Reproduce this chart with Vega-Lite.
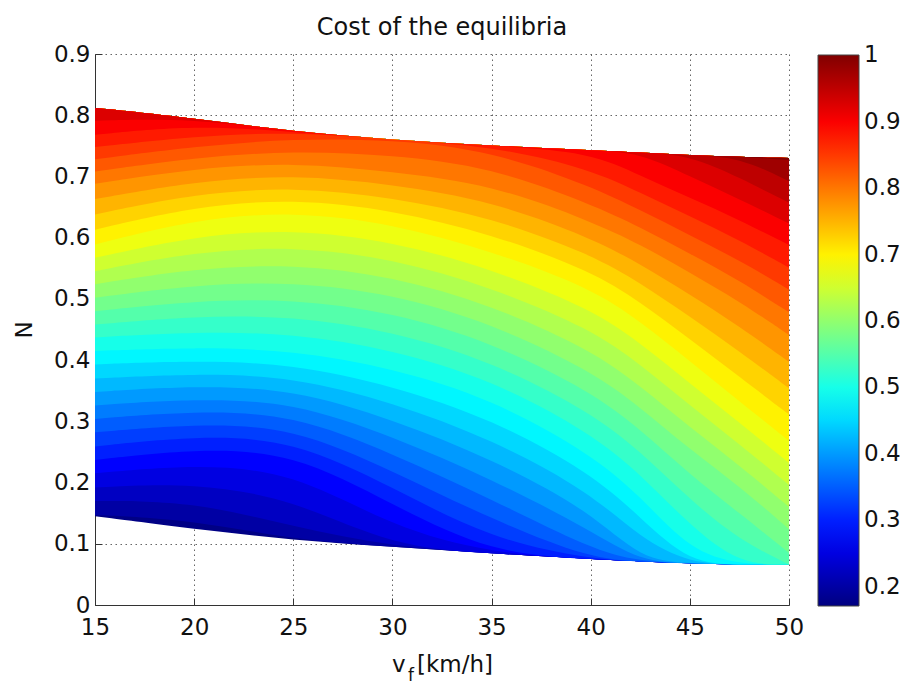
{
  "$schema": "https://vega.github.io/schema/vega-lite/v6.json",
  "width": 694,
  "height": 551,
  "autosize": {"type": "none"},
  "padding": {"left": 95, "top": 54, "right": 118, "bottom": 79},
  "title": {"text": "Cost of the equilibria", "anchor": "middle", "baseline": "alphabetic", "offset": 15, "dy": 31},
  "config": {
    "font": "DejaVu Sans",
    "view": {"stroke": null},
    "title": {"font": "DejaVu Sans", "fontSize": 24, "fontWeight": "normal", "color": "#111"},
    "axis": {
      "labelFont": "DejaVu Sans", "labelFontSize": 23, "labelColor": "#111", "labelFlush": false,
      "titleFont": "DejaVu Sans", "titleFontSize": 23, "titleFontWeight": "normal", "titleColor": "#111",
      "domainColor": "#333", "domainWidth": 1,
      "tickColor": "#333", "tickSize": -7,
      "gridColor": "#555", "gridDash": [1.5, 3.5], "gridWidth": 1, "gridOpacity": 0.9
    },
    "legend": {"labelFont": "DejaVu Sans", "labelFontSize": 23, "labelColor": "#111", "padding": 0}
  },
  "layer": [
    {
      "data": {"values": [
        {"v":15,"c":0.175,"n":0.145},{"v":15,"c":0.2,"n":0.147},{"v":15,"c":0.225,"n":0.170},{"v":15,"c":0.25,"n":0.192},{"v":15,"c":0.275,"n":0.215},{"v":15,"c":0.3,"n":0.237},{"v":15,"c":0.325,"n":0.259},{"v":15,"c":0.35,"n":0.282},{"v":15,"c":0.375,"n":0.304},{"v":15,"c":0.4,"n":0.326},{"v":15,"c":0.425,"n":0.348},{"v":15,"c":0.45,"n":0.370},{"v":15,"c":0.475,"n":0.393},{"v":15,"c":0.5,"n":0.415},{"v":15,"c":0.525,"n":0.437},{"v":15,"c":0.55,"n":0.458},{"v":15,"c":0.575,"n":0.480},{"v":15,"c":0.6,"n":0.502},{"v":15,"c":0.625,"n":0.524},{"v":15,"c":0.65,"n":0.545},{"v":15,"c":0.675,"n":0.567},{"v":15,"c":0.7,"n":0.589},{"v":15,"c":0.725,"n":0.613},{"v":15,"c":0.75,"n":0.638},{"v":15,"c":0.775,"n":0.663},{"v":15,"c":0.8,"n":0.688},{"v":15,"c":0.825,"n":0.708},{"v":15,"c":0.85,"n":0.728},{"v":15,"c":0.875,"n":0.748},{"v":15,"c":0.9,"n":0.768},{"v":15,"c":0.925,"n":0.791},{"v":15,"c":0.95,"n":0.812},{"v":15,"c":0.975,"n":0.812},{"v":15,"c":1.0,"n":0.812},{"v":15,"c":1.025,"n":0.812},
        {"v":20,"c":0.175,"n":0.124},{"v":20,"c":0.2,"n":0.139},{"v":20,"c":0.225,"n":0.169},{"v":20,"c":0.25,"n":0.200},{"v":20,"c":0.275,"n":0.230},{"v":20,"c":0.3,"n":0.255},{"v":20,"c":0.325,"n":0.276},{"v":20,"c":0.35,"n":0.296},{"v":20,"c":0.375,"n":0.317},{"v":20,"c":0.4,"n":0.337},{"v":20,"c":0.425,"n":0.358},{"v":20,"c":0.45,"n":0.378},{"v":20,"c":0.475,"n":0.399},{"v":20,"c":0.5,"n":0.421},{"v":20,"c":0.525,"n":0.446},{"v":20,"c":0.55,"n":0.472},{"v":20,"c":0.575,"n":0.497},{"v":20,"c":0.6,"n":0.523},{"v":20,"c":0.625,"n":0.550},{"v":20,"c":0.65,"n":0.577},{"v":20,"c":0.675,"n":0.603},{"v":20,"c":0.7,"n":0.630},{"v":20,"c":0.725,"n":0.651},{"v":20,"c":0.75,"n":0.672},{"v":20,"c":0.775,"n":0.692},{"v":20,"c":0.8,"n":0.713},{"v":20,"c":0.825,"n":0.731},{"v":20,"c":0.85,"n":0.749},{"v":20,"c":0.875,"n":0.766},{"v":20,"c":0.9,"n":0.784},{"v":20,"c":0.925,"n":0.795},{"v":20,"c":0.95,"n":0.795},{"v":20,"c":0.975,"n":0.795},{"v":20,"c":1.0,"n":0.795},{"v":20,"c":1.025,"n":0.795},
        {"v":25,"c":0.175,"n":0.106},{"v":25,"c":0.2,"n":0.106},{"v":25,"c":0.225,"n":0.128},{"v":25,"c":0.25,"n":0.173},{"v":25,"c":0.275,"n":0.218},{"v":25,"c":0.3,"n":0.250},{"v":25,"c":0.325,"n":0.271},{"v":25,"c":0.35,"n":0.291},{"v":25,"c":0.375,"n":0.312},{"v":25,"c":0.4,"n":0.332},{"v":25,"c":0.425,"n":0.353},{"v":25,"c":0.45,"n":0.373},{"v":25,"c":0.475,"n":0.394},{"v":25,"c":0.5,"n":0.416},{"v":25,"c":0.525,"n":0.444},{"v":25,"c":0.55,"n":0.472},{"v":25,"c":0.575,"n":0.500},{"v":25,"c":0.6,"n":0.528},{"v":25,"c":0.625,"n":0.557},{"v":25,"c":0.65,"n":0.586},{"v":25,"c":0.675,"n":0.614},{"v":25,"c":0.7,"n":0.643},{"v":25,"c":0.725,"n":0.664},{"v":25,"c":0.75,"n":0.683},{"v":25,"c":0.775,"n":0.703},{"v":25,"c":0.8,"n":0.723},{"v":25,"c":0.825,"n":0.742},{"v":25,"c":0.85,"n":0.762},{"v":25,"c":0.875,"n":0.773},{"v":25,"c":0.9,"n":0.773},{"v":25,"c":0.925,"n":0.773},{"v":25,"c":0.95,"n":0.773},{"v":25,"c":0.975,"n":0.773},{"v":25,"c":1.0,"n":0.773},{"v":25,"c":1.025,"n":0.773},
        {"v":30,"c":0.175,"n":0.095},{"v":30,"c":0.2,"n":0.095},{"v":30,"c":0.225,"n":0.095},{"v":30,"c":0.25,"n":0.095},{"v":30,"c":0.275,"n":0.127},{"v":30,"c":0.3,"n":0.164},{"v":30,"c":0.325,"n":0.192},{"v":30,"c":0.35,"n":0.219},{"v":30,"c":0.375,"n":0.247},{"v":30,"c":0.4,"n":0.275},{"v":30,"c":0.425,"n":0.303},{"v":30,"c":0.45,"n":0.331},{"v":30,"c":0.475,"n":0.358},{"v":30,"c":0.5,"n":0.387},{"v":30,"c":0.525,"n":0.417},{"v":30,"c":0.55,"n":0.447},{"v":30,"c":0.575,"n":0.478},{"v":30,"c":0.6,"n":0.508},{"v":30,"c":0.625,"n":0.537},{"v":30,"c":0.65,"n":0.566},{"v":30,"c":0.675,"n":0.594},{"v":30,"c":0.7,"n":0.623},{"v":30,"c":0.725,"n":0.645},{"v":30,"c":0.75,"n":0.666},{"v":30,"c":0.775,"n":0.687},{"v":30,"c":0.8,"n":0.708},{"v":30,"c":0.825,"n":0.735},{"v":30,"c":0.85,"n":0.760},{"v":30,"c":0.875,"n":0.760},{"v":30,"c":0.9,"n":0.760},{"v":30,"c":0.925,"n":0.760},{"v":30,"c":0.95,"n":0.760},{"v":30,"c":0.975,"n":0.760},{"v":30,"c":1.0,"n":0.760},{"v":30,"c":1.025,"n":0.760},
        {"v":35,"c":0.175,"n":0.084},{"v":35,"c":0.2,"n":0.084},{"v":35,"c":0.225,"n":0.084},{"v":35,"c":0.25,"n":0.084},{"v":35,"c":0.275,"n":0.084},{"v":35,"c":0.3,"n":0.084},{"v":35,"c":0.325,"n":0.107},{"v":35,"c":0.35,"n":0.140},{"v":35,"c":0.375,"n":0.173},{"v":35,"c":0.4,"n":0.206},{"v":35,"c":0.425,"n":0.239},{"v":35,"c":0.45,"n":0.271},{"v":35,"c":0.475,"n":0.304},{"v":35,"c":0.5,"n":0.337},{"v":35,"c":0.525,"n":0.368},{"v":35,"c":0.55,"n":0.398},{"v":35,"c":0.575,"n":0.429},{"v":35,"c":0.6,"n":0.460},{"v":35,"c":0.625,"n":0.490},{"v":35,"c":0.65,"n":0.519},{"v":35,"c":0.675,"n":0.549},{"v":35,"c":0.7,"n":0.578},{"v":35,"c":0.725,"n":0.606},{"v":35,"c":0.75,"n":0.633},{"v":35,"c":0.775,"n":0.660},{"v":35,"c":0.8,"n":0.687},{"v":35,"c":0.825,"n":0.715},{"v":35,"c":0.85,"n":0.742},{"v":35,"c":0.875,"n":0.750},{"v":35,"c":0.9,"n":0.750},{"v":35,"c":0.925,"n":0.750},{"v":35,"c":0.95,"n":0.750},{"v":35,"c":0.975,"n":0.750},{"v":35,"c":1.0,"n":0.750},{"v":35,"c":1.025,"n":0.750},
        {"v":40,"c":0.175,"n":0.075},{"v":40,"c":0.2,"n":0.075},{"v":40,"c":0.225,"n":0.075},{"v":40,"c":0.25,"n":0.075},{"v":40,"c":0.275,"n":0.075},{"v":40,"c":0.3,"n":0.075},{"v":40,"c":0.325,"n":0.075},{"v":40,"c":0.35,"n":0.075},{"v":40,"c":0.375,"n":0.091},{"v":40,"c":0.4,"n":0.122},{"v":40,"c":0.425,"n":0.153},{"v":40,"c":0.45,"n":0.184},{"v":40,"c":0.475,"n":0.216},{"v":40,"c":0.5,"n":0.247},{"v":40,"c":0.525,"n":0.281},{"v":40,"c":0.55,"n":0.315},{"v":40,"c":0.575,"n":0.349},{"v":40,"c":0.6,"n":0.383},{"v":40,"c":0.625,"n":0.417},{"v":40,"c":0.65,"n":0.451},{"v":40,"c":0.675,"n":0.484},{"v":40,"c":0.7,"n":0.518},{"v":40,"c":0.725,"n":0.546},{"v":40,"c":0.75,"n":0.573},{"v":40,"c":0.775,"n":0.600},{"v":40,"c":0.8,"n":0.627},{"v":40,"c":0.825,"n":0.655},{"v":40,"c":0.85,"n":0.684},{"v":40,"c":0.875,"n":0.712},{"v":40,"c":0.9,"n":0.740},{"v":40,"c":0.925,"n":0.743},{"v":40,"c":0.95,"n":0.743},{"v":40,"c":0.975,"n":0.743},{"v":40,"c":1.0,"n":0.743},{"v":40,"c":1.025,"n":0.743},
        {"v":42.5,"c":0.175,"n":0.071},{"v":42.5,"c":0.2,"n":0.071},{"v":42.5,"c":0.225,"n":0.071},{"v":42.5,"c":0.25,"n":0.071},{"v":42.5,"c":0.275,"n":0.071},{"v":42.5,"c":0.3,"n":0.071},{"v":42.5,"c":0.325,"n":0.071},{"v":42.5,"c":0.35,"n":0.071},{"v":42.5,"c":0.375,"n":0.071},{"v":42.5,"c":0.4,"n":0.071},{"v":42.5,"c":0.425,"n":0.074},{"v":42.5,"c":0.45,"n":0.109},{"v":42.5,"c":0.475,"n":0.143},{"v":42.5,"c":0.5,"n":0.178},{"v":42.5,"c":0.525,"n":0.214},{"v":42.5,"c":0.55,"n":0.251},{"v":42.5,"c":0.575,"n":0.287},{"v":42.5,"c":0.6,"n":0.323},{"v":42.5,"c":0.625,"n":0.358},{"v":42.5,"c":0.65,"n":0.393},{"v":42.5,"c":0.675,"n":0.428},{"v":42.5,"c":0.7,"n":0.463},{"v":42.5,"c":0.725,"n":0.495},{"v":42.5,"c":0.75,"n":0.526},{"v":42.5,"c":0.775,"n":0.557},{"v":42.5,"c":0.8,"n":0.589},{"v":42.5,"c":0.825,"n":0.617},{"v":42.5,"c":0.85,"n":0.645},{"v":42.5,"c":0.875,"n":0.673},{"v":42.5,"c":0.9,"n":0.701},{"v":42.5,"c":0.925,"n":0.739},{"v":42.5,"c":0.95,"n":0.739},{"v":42.5,"c":0.975,"n":0.739},{"v":42.5,"c":1.0,"n":0.739},{"v":42.5,"c":1.025,"n":0.739},
        {"v":45,"c":0.175,"n":0.068},{"v":45,"c":0.2,"n":0.068},{"v":45,"c":0.225,"n":0.068},{"v":45,"c":0.25,"n":0.068},{"v":45,"c":0.275,"n":0.068},{"v":45,"c":0.3,"n":0.068},{"v":45,"c":0.325,"n":0.068},{"v":45,"c":0.35,"n":0.068},{"v":45,"c":0.375,"n":0.068},{"v":45,"c":0.4,"n":0.068},{"v":45,"c":0.425,"n":0.068},{"v":45,"c":0.45,"n":0.068},{"v":45,"c":0.475,"n":0.068},{"v":45,"c":0.5,"n":0.089},{"v":45,"c":0.525,"n":0.130},{"v":45,"c":0.55,"n":0.172},{"v":45,"c":0.575,"n":0.213},{"v":45,"c":0.6,"n":0.254},{"v":45,"c":0.625,"n":0.290},{"v":45,"c":0.65,"n":0.326},{"v":45,"c":0.675,"n":0.362},{"v":45,"c":0.7,"n":0.398},{"v":45,"c":0.725,"n":0.434},{"v":45,"c":0.75,"n":0.471},{"v":45,"c":0.775,"n":0.507},{"v":45,"c":0.8,"n":0.543},{"v":45,"c":0.825,"n":0.574},{"v":45,"c":0.85,"n":0.604},{"v":45,"c":0.875,"n":0.635},{"v":45,"c":0.9,"n":0.665},{"v":45,"c":0.925,"n":0.700},{"v":45,"c":0.95,"n":0.735},{"v":45,"c":0.975,"n":0.735},{"v":45,"c":1.0,"n":0.735},{"v":45,"c":1.025,"n":0.735},
        {"v":47.5,"c":0.175,"n":0.066},{"v":47.5,"c":0.2,"n":0.066},{"v":47.5,"c":0.225,"n":0.066},{"v":47.5,"c":0.25,"n":0.066},{"v":47.5,"c":0.275,"n":0.066},{"v":47.5,"c":0.3,"n":0.066},{"v":47.5,"c":0.325,"n":0.066},{"v":47.5,"c":0.35,"n":0.066},{"v":47.5,"c":0.375,"n":0.066},{"v":47.5,"c":0.4,"n":0.066},{"v":47.5,"c":0.425,"n":0.066},{"v":47.5,"c":0.45,"n":0.066},{"v":47.5,"c":0.475,"n":0.066},{"v":47.5,"c":0.5,"n":0.066},{"v":47.5,"c":0.525,"n":0.066},{"v":47.5,"c":0.55,"n":0.106},{"v":47.5,"c":0.575,"n":0.150},{"v":47.5,"c":0.6,"n":0.194},{"v":47.5,"c":0.625,"n":0.228},{"v":47.5,"c":0.65,"n":0.263},{"v":47.5,"c":0.675,"n":0.298},{"v":47.5,"c":0.7,"n":0.333},{"v":47.5,"c":0.725,"n":0.373},{"v":47.5,"c":0.75,"n":0.414},{"v":47.5,"c":0.775,"n":0.455},{"v":47.5,"c":0.8,"n":0.496},{"v":47.5,"c":0.825,"n":0.530},{"v":47.5,"c":0.85,"n":0.563},{"v":47.5,"c":0.875,"n":0.596},{"v":47.5,"c":0.9,"n":0.629},{"v":47.5,"c":0.925,"n":0.663},{"v":47.5,"c":0.95,"n":0.698},{"v":47.5,"c":0.975,"n":0.732},{"v":47.5,"c":1.0,"n":0.732},{"v":47.5,"c":1.025,"n":0.732},
        {"v":50,"c":0.175,"n":0.066},{"v":50,"c":0.2,"n":0.066},{"v":50,"c":0.225,"n":0.066},{"v":50,"c":0.25,"n":0.066},{"v":50,"c":0.275,"n":0.066},{"v":50,"c":0.3,"n":0.066},{"v":50,"c":0.325,"n":0.066},{"v":50,"c":0.35,"n":0.066},{"v":50,"c":0.375,"n":0.066},{"v":50,"c":0.4,"n":0.066},{"v":50,"c":0.425,"n":0.066},{"v":50,"c":0.45,"n":0.066},{"v":50,"c":0.475,"n":0.066},{"v":50,"c":0.5,"n":0.066},{"v":50,"c":0.525,"n":0.066},{"v":50,"c":0.55,"n":0.066},{"v":50,"c":0.575,"n":0.085},{"v":50,"c":0.6,"n":0.124},{"v":50,"c":0.625,"n":0.160},{"v":50,"c":0.65,"n":0.196},{"v":50,"c":0.675,"n":0.232},{"v":50,"c":0.7,"n":0.268},{"v":50,"c":0.725,"n":0.311},{"v":50,"c":0.75,"n":0.354},{"v":50,"c":0.775,"n":0.397},{"v":50,"c":0.8,"n":0.441},{"v":50,"c":0.825,"n":0.478},{"v":50,"c":0.85,"n":0.515},{"v":50,"c":0.875,"n":0.551},{"v":50,"c":0.9,"n":0.588},{"v":50,"c":0.925,"n":0.623},{"v":50,"c":0.95,"n":0.657},{"v":50,"c":0.975,"n":0.692},{"v":50,"c":1.0,"n":0.727},{"v":50,"c":1.025,"n":0.730}
      ]},
      "transform": [
        {"joinaggregate": [{"op": "max", "field": "n", "as": "top"}], "groupby": ["v"]},
        {"filter": "datum.c <= 1"}
      ],
      "mark": {"type": "area", "interpolate": "basis"},
      "encoding": {
        "x": {
          "field": "v", "type": "quantitative",
          "scale": {"domain": [15, 50], "nice": false, "zero": false},
          "axis": {"values": [15, 20, 25, 30, 35, 40, 45, 50], "format": "d", "title": "v\u2002[km/h]", "labelPadding": 18, "titlePadding": 14, "grid": true}
        },
        "y": {
          "field": "n", "type": "quantitative", "stack": null,
          "scale": {"domain": [0, 0.9], "nice": false, "zero": false},
          "axis": {"values": [0, 0.1, 0.2, 0.3, 0.4, 0.5, 0.6, 0.7, 0.8, 0.9], "format": ".1~f", "title": "N", "labelPadding": 12, "titlePadding": 17, "grid": true}
        },
        "y2": {"field": "top"},
        "detail": {"field": "c", "type": "quantitative"},
        "color": {
          "field": "c", "type": "quantitative",
          "scale": {
            "type": "linear",
            "domain": [0.171, 0.2746, 0.4819, 0.6891, 0.8964, 1.0005],
            "range": ["#000080", "#0000ff", "#00ffff", "#ffff00", "#ff0000", "#800000"],
            "interpolate": "rgb"
          },
          "legend": {
            "orient": "none", "legendX": 723, "legendY": 1,
            "direction": "vertical", "title": null,
            "gradientLength": 551, "gradientThickness": 41,
            "gradientStrokeColor": "#444", "gradientStrokeWidth": 1,
            "values": [0.2, 0.3, 0.4, 0.5, 0.6, 0.7, 0.8, 0.9, 1.0],
            "format": ".1~f", "labelOffset": 5, "labelOverlap": false
          }
        }
      }
    },
    {
      "data": {"values": [{"sub": "f"}]},
      "mark": {"type": "text", "align": "center", "baseline": "alphabetic", "fontSize": 17, "font": "DejaVu Sans", "color": "#111"},
      "encoding": {
        "x": {"datum": 30.94, "type": "quantitative"},
        "y": {"datum": -0.124, "type": "quantitative"},
        "text": {"field": "sub"}
      }
    }
  ]
}
